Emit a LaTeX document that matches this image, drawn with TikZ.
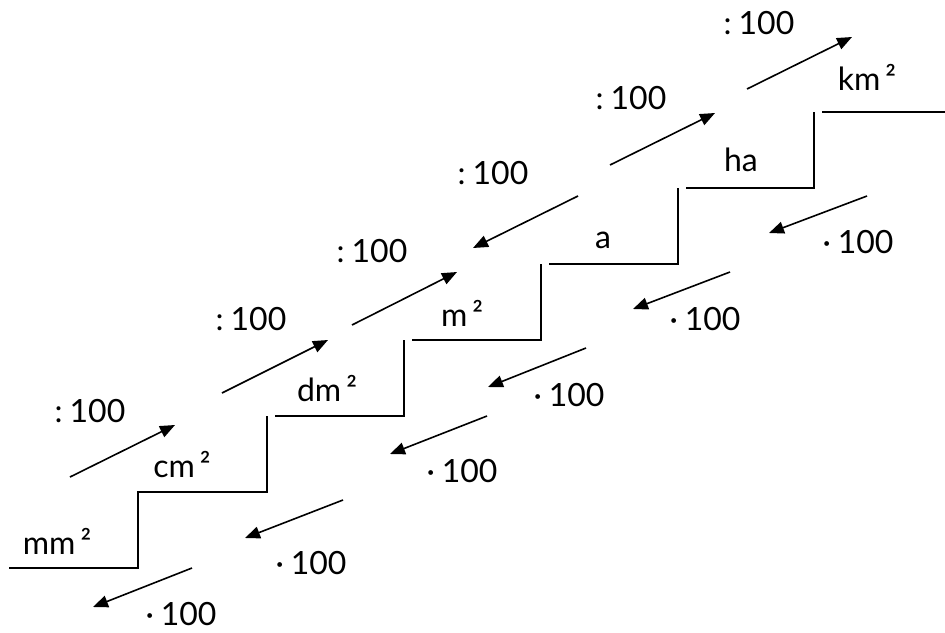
\documentclass[tikz,border=0pt]{standalone}
\usepackage{fontspec}
\setmainfont{Lato}
\usetikzlibrary{arrows.meta}
\begin{document}
\begin{tikzpicture}[x=1pt,y=-1pt,
  lbl/.style={font=\fontsize{32}{35}\selectfont,inner sep=0pt},
  unit/.style={font=\fontsize{32}{35}\selectfont,inner sep=0pt},
  stair/.style={line width=1.6pt},
  conv/.style={line width=1.6pt,-{Triangle[length=15pt,width=12pt]}}]
\useasboundingbox (0,0) rectangle (945,632);
% staircase
\draw[stair] (9,568) -- (138,568) -- (138,492) -- (267,492) -- (267,416);
\draw[stair] (275,416) -- (404,416) -- (404,340);
\draw[stair] (412,340) -- (541,340) -- (541,264);
\draw[stair] (549,264) -- (678,264) -- (678,188);
\draw[stair] (686,188) -- (814,188) -- (814,112);
\draw[stair] (822,112) -- (945,112);
% unit labels
\node[unit] (mm) at (57,541) {mm\kern5pt²};
\node[unit] (cm) at (182,465) {cm\kern5pt²};
\node[unit] (dm) at (327,389) {dm\kern5pt²};
\node[unit] (m)  at (462,313) {m\kern5pt²};
\node[unit] (a)  at (603,240) {a};
\node[unit] (ha) at (741,160) {ha};
\node[unit] (km) at (867,77)  {km\kern5pt²};
% upward labels
\node[lbl] (u1) at (90,411)  {:\kern7pt100};
\node[lbl] (u2) at (251,319) {:\kern7pt100};
\node[lbl] (u3) at (372,251) {:\kern7pt100};
\node[lbl] (u4) at (493,173) {:\kern7pt100};
\node[lbl] (u5) at (631,98)  {:\kern7pt100};
\node[lbl] (u6) at (759,23)  {:\kern7pt100};
% downward labels
\node[lbl] (d1) at (181,614) {·\kern7pt100};
\node[lbl] (d2) at (311,563) {·\kern7pt100};
\node[lbl] (d3) at (462,471) {·\kern7pt100};
\node[lbl] (d4) at (569,395) {·\kern7pt100};
\node[lbl] (d5) at (705,319) {·\kern7pt100};
\node[lbl] (d6) at (858,242) {·\kern7pt100};
% arrow end points
\coordinate (us1) at (70,477);  \coordinate (ut1) at (175,425);
\coordinate (us2) at (222,393); \coordinate (ut2) at (328,340);
\coordinate (us3) at (352,325); \coordinate (ut3) at (457,272);
\coordinate (us4) at (578,196); \coordinate (ut4) at (473,248);
\coordinate (us5) at (610,165); \coordinate (ut5) at (715,113);
\coordinate (us6) at (747,89);  \coordinate (ut6) at (852,37);
\coordinate (ds1) at (192,568); \coordinate (dt1) at (93,607);
\coordinate (ds2) at (343,500); \coordinate (dt2) at (245,538);
\coordinate (ds3) at (487,416); \coordinate (dt3) at (390,454);
\coordinate (ds4) at (586,348); \coordinate (dt4) at (488,387);
\coordinate (ds5) at (730,272); \coordinate (dt5) at (633,309);
\coordinate (ds6) at (867,196); \coordinate (dt6) at (769,233);
\foreach \i in {1,...,6}{
  \draw[conv] (us\i) -- (ut\i);
  \draw[conv] (ds\i) -- (dt\i);
}
\end{tikzpicture}
\end{document}
